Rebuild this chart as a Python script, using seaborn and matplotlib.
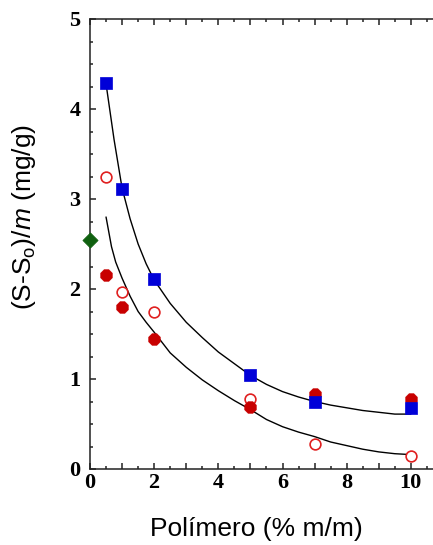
import matplotlib
matplotlib.use("Agg")
import matplotlib.pyplot as plt
import seaborn as sns
import pandas as pd
from matplotlib.ticker import MultipleLocator

# Data
x_pts = [0.5, 1, 2, 5, 7, 10]
blue_sq = [4.29, 3.11, 2.11, 1.04, 0.74, 0.68]
red_open = [3.24, 1.97, 1.74, 0.78, 0.28, 0.14]
red_fill = [2.16, 1.80, 1.45, 0.69, 0.83, 0.78]
green_x = [0]
green_y = [2.54]

# Fitted curves
upper_x = [0.5, 0.75, 1.0, 1.25, 1.5, 1.75, 2.0, 2.5, 3.0, 3.5, 4.0, 4.5, 5.0, 5.5, 6.0, 6.5, 7.0, 7.5, 8.0, 8.5, 9.0, 9.5, 10.0]
upper_y = [4.28, 3.66, 3.12, 2.78, 2.50, 2.28, 2.10, 1.84, 1.63, 1.46, 1.30, 1.17, 1.04, 0.94, 0.86, 0.80, 0.75, 0.71, 0.68, 0.65, 0.63, 0.61, 0.61]
lower_x = [0.5, 0.67, 0.8, 1.0, 1.25, 1.5, 1.75, 2.0, 2.5, 3.0, 3.5, 4.0, 4.5, 5.0, 5.5, 6.0, 6.5, 7.0, 7.5, 8.0, 8.5, 9.0, 9.5, 10.0]
lower_y = [2.80, 2.47, 2.30, 2.12, 1.92, 1.75, 1.63, 1.52, 1.29, 1.13, 0.99, 0.87, 0.76, 0.66, 0.55, 0.47, 0.41, 0.36, 0.30, 0.26, 0.22, 0.19, 0.17, 0.16]

sns.set_style("ticks")
plt.rcParams['mathtext.fontset'] = 'custom'
plt.rcParams['mathtext.rm'] = 'Liberation Sans'
plt.rcParams['mathtext.it'] = 'Liberation Sans:italic'

fig = plt.figure(figsize=(4.33, 5.45), dpi=100)
ax = fig.add_axes([90/433, 76/545, 343/433, 450/545])

up = pd.DataFrame({"x": upper_x, "y": upper_y})
lo = pd.DataFrame({"x": lower_x, "y": lower_y})
sns.lineplot(data=up, x="x", y="y", ax=ax, color="black", lw=1.0, sort=False, estimator=None)
sns.lineplot(data=lo, x="x", y="y", ax=ax, color="black", lw=1.0, sort=False, estimator=None)

sns.scatterplot(x=x_pts, y=red_open, ax=ax, marker="o", s=60, facecolor="white",
                edgecolor="#e02020", linewidth=1.2, zorder=3)
sns.scatterplot(x=x_pts, y=red_fill, ax=ax, marker="8", s=80, color="#c80000",
                edgecolor="#c80000", linewidth=0.5, zorder=3)
sns.scatterplot(x=x_pts, y=blue_sq, ax=ax, marker="s", s=85, color="#0000d8",
                edgecolor="#0000d8", linewidth=0.5, zorder=4)
sns.scatterplot(x=green_x, y=green_y, ax=ax, marker="D", s=60, color="#106010",
                edgecolor="#106010", linewidth=0.5, zorder=4, clip_on=False)

ax.set_xlim(0, 10.69)
ax.set_ylim(0, 5)
ax.xaxis.set_minor_locator(MultipleLocator(0.5))
ax.yaxis.set_minor_locator(MultipleLocator(0.25))
ax.set_xticks([0, 1, 2, 3, 4, 5, 6, 7, 8, 9, 10])
ax.set_xticklabels(["0", "", "2", "", "4", "", "6", "", "8", "", "10"])
ax.set_yticks([0, 1, 2, 3, 4, 5])
ax.set_yticklabels(["0", "1", "2", "3", "4", "5"])

for lab in ax.get_xticklabels() + ax.get_yticklabels():
    lab.set_fontfamily("Liberation Serif")
    lab.set_fontweight("bold")
    lab.set_fontsize(16)
    lab.set_color("black")

ax.tick_params(which="both", direction="in", top=True, bottom=True, left=True, right=False,
               color="#222222", width=1.1)
ax.tick_params(which="major", length=4.5)
ax.tick_params(which="minor", length=2.2)
ax.tick_params(axis="y", which="major", pad=7)
ax.tick_params(axis="x", which="major", pad=3)

for s in ["left", "top", "bottom"]:
    ax.spines[s].set_visible(True)
    ax.spines[s].set_linewidth(1.1)
    ax.spines[s].set_color("#222222")
ax.spines["right"].set_visible(False)

ax.set_xlabel("Polímero (% m/m)", fontfamily="Liberation Sans", fontsize=19, color="black")
ax.set_ylabel(r"(S-S$_\mathrm{o}$)/$m$ (mg/g)", fontfamily="Liberation Sans", fontsize=19, color="black")
# place labels like the reference
ax.xaxis.set_label_coords((256 - 90) / 343, (469 - 517) / 450)
ax.yaxis.set_label_coords((38 - 90) / 343, (469 - 217) / 450)
if ax.get_legend():
    ax.get_legend().remove()

fig.savefig("out.png", dpi=100)
